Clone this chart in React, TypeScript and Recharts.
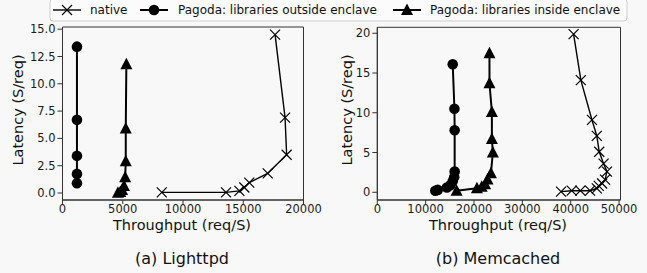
import React from 'react';
import { ScatterChart, Scatter, XAxis, YAxis, ReferenceArea } from 'recharts';

// (a) Lighttpd
const lightNativeX = [8240, 13570, 14680, 15090, 15500, 17030, 18600, 18470, 17640];
const lightNativeY = [0.06, 0.06, 0.2, 0.5, 0.95, 1.8, 3.5, 6.9, 14.5];
const lightOutsideX = [1200, 1200, 1200, 1200, 1200];
const lightOutsideY = [0.9, 1.75, 3.4, 6.7, 13.4];
const lightInsideX = [4600, 4800, 4950, 5100, 5200, 5250, 5250, 5300];
const lightInsideY = [0.03, 0.1, 0.27, 0.65, 1.45, 2.9, 5.9, 11.8];

// (b) Memcached
const memNativeX = [38000, 40200, 42000, 44000, 45400, 45800, 46500, 47100, 47500, 46800, 45900, 45400, 44400, 42100, 40600];
const memNativeY = [0.08, 0.2, 0.2, 0.2, 0.5, 0.8, 1.1, 1.6, 2.6, 3.6, 5.1, 7.1, 9.1, 14.1, 19.9];
const memOutsideX = [12000, 12500, 14400, 15100, 15600, 15900, 16000, 16000, 15950, 15600];
const memOutsideY = [0.2, 0.3, 0.6, 0.9, 1.4, 1.9, 2.6, 7.8, 10.5, 16.1];
const memInsideX = [16400, 20600, 21600, 22300, 22800, 23500, 23900, 23700, 23700, 23200, 23200];
const memInsideY = [0.2, 0.5, 0.7, 1.0, 1.6, 2.4, 5.0, 6.7, 10.1, 13.7, 17.5];

const lightXTicks = [0, 5000, 10000, 15000, 20000];
const lightYTicks = [0, 2.5, 5, 7.5, 10, 12.5, 15];
const memXTicks = [0, 10000, 20000, 30000, 40000, 50000];
const memYTicks = [0, 5, 10, 15, 20];

const zip = (xs: number[], ys: number[]) => xs.map((x, i) => ({ x, y: ys[i] }));

const FONT = 'DejaVu Sans, sans-serif';

const Cross = (p: any) => {
  const { cx, cy } = p;
  const s = 5;
  return (
    <path
      d={`M${cx - s},${cy - s}L${cx + s},${cy + s}M${cx - s},${cy + s}L${cx + s},${cy - s}`}
      stroke="#000"
      strokeWidth={1.2}
      fill="none"
    />
  );
};

const Dot = (p: any) => <circle cx={p.cx} cy={p.cy} r={5.3} fill="#000" />;

const Tri = (p: any) => {
  const { cx, cy } = p;
  return <path d={`M${cx},${cy - 6.5}L${cx + 6},${cy + 5}L${cx - 6},${cy + 5}Z`} fill="#000" />;
};

const tickStyle = { fontSize: 11.5, fill: '#1a1a1a', fontFamily: FONT };

interface PanelProps {
  width: number;
  margin: { top: number; right: number; bottom: number; left: number };
  xDomain: [number, number];
  yDomain: [number, number];
  xTicks: number[];
  yTicks: number[];
  yFmt: (v: number) => string;
  nat: { x: number; y: number }[];
  out: { x: number; y: number }[];
  ins: { x: number; y: number }[];
}

const Panel: React.FC<PanelProps> = ({ width, margin, xDomain, yDomain, xTicks, yTicks, yFmt, nat, out, ins }) => (
  <ScatterChart width={width} height={273} margin={margin}>
    <XAxis
      type="number"
      dataKey="x"
      domain={xDomain}
      ticks={xTicks}
      allowDataOverflow
      height={30}
      tick={tickStyle}
      tickSize={4}
      tickMargin={1}
      stroke="#333"
    />
    <YAxis
      type="number"
      dataKey="y"
      domain={yDomain}
      ticks={yTicks}
      allowDataOverflow
      width={40}
      tick={tickStyle}
      tickSize={5}
      tickMargin={2}
      tickFormatter={yFmt}
      stroke="#333"
    />
    <ReferenceArea
      x1={xDomain[0]}
      x2={xDomain[1]}
      y1={yDomain[0]}
      y2={yDomain[1]}
      fill="none"
      fillOpacity={0}
      stroke="#333"
      strokeWidth={1}
    />
    <Scatter data={nat} shape={Cross} line={{ stroke: '#000', strokeWidth: 1.4 }} isAnimationActive={false} />
    <Scatter data={out} shape={Dot} line={{ stroke: '#000', strokeWidth: 2 }} isAnimationActive={false} />
    <Scatter data={ins} shape={Tri} line={{ stroke: '#000', strokeWidth: 2 }} isAnimationActive={false} />
  </ScatterChart>
);

export default function App() {
  return (
    <div style={{ position: 'absolute', left: 0, top: 0, width: 647, height: 273, background: '#f8f8f8', overflow: 'hidden' }}>
      <div style={{ position: 'absolute', left: 0, top: 0 }}>
        <Panel
          width={330}
          margin={{ top: 27, right: 26.5, bottom: 43, left: 22.5 }}
          xDomain={[0, 20000]}
          yDomain={[-0.64, 15.2]}
          xTicks={lightXTicks}
          yTicks={lightYTicks}
          yFmt={(v) => v.toFixed(1)}
          nat={zip(lightNativeX, lightNativeY)}
          out={zip(lightOutsideX, lightOutsideY)}
          ins={zip(lightInsideX, lightInsideY)}
        />
      </div>
      <div style={{ position: 'absolute', left: 330, top: 0 }}>
        <Panel
          width={317}
          margin={{ top: 27.3, right: 26.5, bottom: 43, left: 7.3 }}
          xDomain={[0, 50300]}
          yDomain={[-0.97, 20.75]}
          xTicks={memXTicks}
          yTicks={memYTicks}
          yFmt={(v) => String(v)}
          nat={zip(memNativeX, memNativeY)}
          out={zip(memOutsideX, memOutsideY)}
          ins={zip(memInsideX, memInsideY)}
        />
      </div>
      <svg width={647} height={273} style={{ position: 'absolute', left: 0, top: 0, pointerEvents: 'none' }} fontFamily={FONT}>
        <rect x={50} y={-1} width={577} height={22} rx={3} fill="#fbfbfb" stroke="#cfcfcf" />
        <line x1={53} x2={81} y1={10} y2={10} stroke="#000" strokeWidth={1.4} />
        <Cross cx={67} cy={10} />
        <text x={90} y={14.3} fontSize={12} fill="#111">native</text>
        <line x1={140} x2={168} y1={10} y2={10} stroke="#000" strokeWidth={2} />
        <Dot cx={154} cy={10} />
        <text x={178} y={14.3} fontSize={12} fill="#111">Pagoda: libraries outside enclave</text>
        <line x1={393} x2={421} y1={10} y2={10} stroke="#000" strokeWidth={2} />
        <Tri cx={407} cy={10} />
        <text x={430} y={14.3} fontSize={12} fill="#111">Pagoda: libraries inside enclave</text>

        <text x={182} y={230} fontSize={14.5} textAnchor="middle" fill="#111">Throughput (req/S)</text>
        <text x={498} y={230} fontSize={14.5} textAnchor="middle" fill="#111">Throughput (req/S)</text>
        <text x={182} y={264} fontSize={16} textAnchor="middle" fill="#111">(a) Lighttpd</text>
        <text x={498} y={264} fontSize={16} textAnchor="middle" fill="#111">(b) Memcached</text>
        <text transform="translate(18,110) rotate(-90)" fontSize={14.5} textAnchor="middle" dy="0.36em" fill="#111">Latency (S/req)</text>
        <text transform="translate(347,110) rotate(-90)" fontSize={14.5} textAnchor="middle" dy="0.36em" fill="#111">Latency (S/req)</text>
      </svg>
    </div>
  );
}
